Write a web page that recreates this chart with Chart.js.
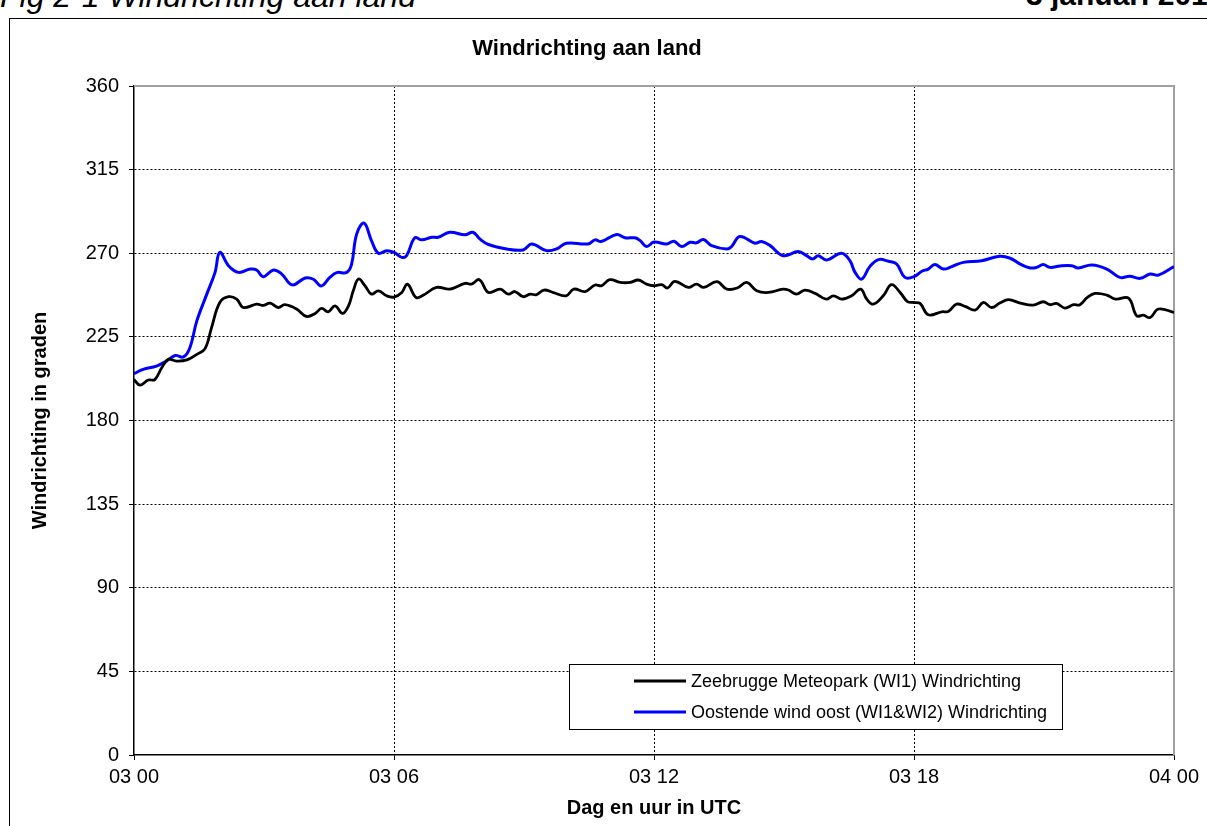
<!DOCTYPE html>
<html>
<head>
<meta charset="utf-8">
<script src="https://cdn.jsdelivr.net/npm/chart.js@4/dist/chart.umd.min.js"></script>
<style>
  html, body { margin: 0; padding: 0; background: #fff; overflow: hidden; }
  #wrap { position: relative; width: 1207px; height: 826px; overflow: hidden; }
  #chart { position: absolute; left: 0; top: 0; }
  .hdr { position: absolute; font-family: "Liberation Sans", Arial, sans-serif; font-size: 32px; line-height: 1; white-space: nowrap; color: #000; }
  #hdrLeft { left: 0; top: -20px; font-style: italic; }
  #hdrRight { left: 1026px; top: -20px; font-size: 30px; font-weight: bold; }
</style>
</head>
<body>
<div id="wrap">
  <div class="hdr" id="hdrLeft">Fig 2-1 Windrichting aan land</div>
  <div class="hdr" id="hdrRight">3 januari 2010</div>
  <canvas id="chart" width="1207" height="826"></canvas>
</div>
<script>
// hours after 03 00 UTC
var tickLabels = ['03 00', '03 06', '03 12', '03 18', '04 00'];
var seriesNames = ['Zeebrugge Meteopark (WI1) Windrichting', 'Oostende wind oost (WI1&WI2) Windrichting'];

var zeeHours = [0, 0.14, 0.33, 0.48, 0.64, 0.79, 0.98, 1.22, 1.45, 1.64, 1.79, 1.98, 2.18, 2.37, 2.52, 2.83, 2.98, 3.14, 3.33, 3.48,
    3.75, 3.98, 4.18, 4.33, 4.48, 4.64, 4.81, 4.95, 5.06, 5.18, 5.33, 5.48, 5.64, 5.83, 6.0,
    6.18, 6.31, 6.51, 6.68, 6.98, 7.29, 7.64, 7.79, 7.97, 8.18, 8.45, 8.64, 8.79, 8.98, 9.14, 9.29, 9.46, 9.68, 9.97, 10.15,
    10.41, 10.64, 10.79, 10.98, 11.22, 11.45, 11.64, 11.83, 12.0,
    12.18, 12.31, 12.48, 12.79, 12.98, 13.15, 13.45, 13.68, 13.92, 14.14, 14.37, 14.64, 14.98, 15.1, 15.29, 15.48, 15.72, 15.97,
    16.14, 16.33, 16.56, 16.77, 16.91, 17.06, 17.29, 17.48, 17.68, 17.85, 18.0,
    18.14, 18.33, 18.64, 18.79, 18.98, 19.18, 19.41, 19.6, 19.79, 19.98, 20.18, 20.45, 20.75, 20.98, 21.14, 21.29, 21.48, 21.68,
    21.83, 22.0, 22.18, 22.45, 22.65, 22.95, 23.14, 23.29, 23.45, 23.64, 24.0];
var zeeDir = [202.1, 199, 201.8, 202, 208.4, 212.9, 212, 212.6, 215.6, 218.7, 230, 243.5, 246.6, 245.3, 240.8, 242.6, 241.9, 243.2, 240.8, 242.3,
    240, 236, 237.6, 240.3, 238.5, 241.7, 237.6, 241.7, 249.8, 256.1, 252.5, 248, 249.8, 247.1, 246.4,
    248.9, 253.4, 246.2, 247.5, 251.6, 250.7, 253.8, 253.4, 255.8, 248.9, 250.7, 248, 249.4, 246.6, 248, 247.7, 250.2, 248.8, 247.1, 250.7,
    249.4, 252.9, 252.5, 255.8, 254.3, 254.3, 255.6, 253.4, 252.5,
    253.1, 251.3, 254.9, 251.6, 253.4, 251.6, 254.7, 250.7, 251.3, 254.3, 249.8, 248.9, 250.7, 250.2, 248, 250.2, 248.4, 245.3,
    247.1, 245.3, 247.1, 250.7, 245.3, 242.6, 247.1, 253.1, 248.9, 244, 243.5,
    243, 236.9, 238.5, 238.7, 242.6, 241.4, 239.4, 243.5, 240.8, 243.2, 245, 243.2, 242.1, 243.9, 242.3, 243, 240.5, 242.3,
    242.3, 246.2, 248.4, 247.5, 245.3, 245.8, 236.3, 236.7, 235.4, 240, 238.2];

var oostHours = [0, 0.21, 0.52, 0.75, 0.95, 1.14, 1.29, 1.45, 1.68, 1.87, 1.98, 2.18, 2.41, 2.68, 2.83, 2.98, 3.22, 3.41, 3.65, 3.95,
    4.14, 4.32, 4.52, 4.68, 4.91, 5.02, 5.14, 5.31, 5.48, 5.64, 5.83, 6.0,
    6.18, 6.29, 6.48, 6.64, 6.87, 7.02, 7.29, 7.64, 7.82, 7.98, 8.18, 8.6, 8.98, 9.18, 9.52, 9.75, 9.98, 10.48, 10.64, 10.78,
    11.14, 11.33, 11.56, 11.68, 11.83, 12.0,
    12.29, 12.46, 12.64, 12.83, 12.98, 13.14, 13.33, 13.68, 13.79, 13.98, 14.33, 14.48, 14.68, 14.98, 15.33, 15.52, 15.66, 15.79,
    15.98, 16.33, 16.52, 16.64, 16.79, 16.98, 17.18, 17.41, 17.6, 17.79, 18.0,
    18.18, 18.33, 18.48, 18.68, 18.87, 19.14, 19.56, 19.98, 20.22, 20.45, 20.68, 20.83, 20.98, 21.14, 21.37, 21.64, 21.79, 22.1,
    22.45, 22.75, 22.98, 23.22, 23.45, 23.64, 24.0];
var oostDir = [205.2, 207.5, 209.3, 212, 215, 214.2, 219.2, 233.6, 248, 259.7, 270.5, 263.3, 259.7, 261.5, 261, 257.4, 261, 258.8, 253, 256.7,
    256, 252.4, 257, 259.6, 259.7, 264, 280.4, 286.2, 276.8, 270, 271.4, 270.5,
    267.8, 268.7, 278.3, 277.2, 278.6, 278.6, 281.3, 279.9, 281.3, 277.7, 274.7, 272.3, 271.8, 275, 271.4, 272.3, 275.4, 275, 277.2, 276.3,
    280.1, 278.3, 278.3, 276.8, 273.6, 276,
    275, 276.5, 273.6, 275.9, 275.6, 277.4, 274.1, 272.3, 273.6, 279, 275.4, 276.3, 274.1, 268.7, 270.9, 268.7, 266.9, 268.7,
    266.4, 270, 266, 259.7, 256.1, 262.8, 266.6, 265.7, 264.2, 257, 257.4,
    260.3, 261.5, 263.9, 261.5, 262.8, 265.1, 266, 268.4, 267.3, 264.2, 262.1, 262.4, 263.9, 262.4, 263.2, 263.3, 262.1, 263.7,
    261.5, 257, 257.6, 256.5, 258.8, 258.2, 262.8];

var FONT = '"Liberation Sans", Arial, sans-serif';

function toPoints(xs, ys) {
    return xs.map(function(x, i) { return { x: x, y: ys[i] }; });
}

// outer frame, grey plot border, boxed legend
var framePlugin = {
    id: 'frame',
    beforeDraw: function(chart) {
        var ctx = chart.ctx;
        ctx.save();
        ctx.strokeStyle = '#000';
        ctx.lineWidth = 1;
        ctx.strokeRect(9.5, 18.5, 1300, 900);
        ctx.restore();
    },
    beforeDatasetsDraw: function(chart) {
        var a = chart.chartArea, ctx = chart.ctx;
        ctx.save();
        ctx.strokeStyle = '#a0a0a0';
        ctx.lineWidth = 2;
        ctx.beginPath();
        ctx.moveTo(a.left, a.top);
        ctx.lineTo(a.right, a.top);
        ctx.lineTo(a.right, a.bottom);
        ctx.stroke();
        ctx.restore();
    },
    afterDraw: function(chart) {
        var ctx = chart.ctx;
        var ds = chart.data.datasets;
        ctx.save();
        ctx.fillStyle = '#fff';
        ctx.fillRect(569, 664, 493, 65);
        ctx.strokeStyle = '#000';
        ctx.lineWidth = 1;
        ctx.strokeRect(569.5, 664.5, 493, 65);
        ctx.font = '18px ' + FONT;
        ctx.textBaseline = 'middle';
        ds.forEach(function(d, i) {
            var y = 681 + i * 31;
            ctx.strokeStyle = d.borderColor;
            ctx.lineWidth = 3;
            ctx.beginPath();
            ctx.moveTo(634, y);
            ctx.lineTo(686, y);
            ctx.stroke();
            ctx.fillStyle = '#000';
            ctx.fillText(d.label, 691, y + 1);
        });
        ctx.restore();
    }
};

window.onload = function() {
    var ctx = document.getElementById('chart').getContext('2d');
    new Chart(ctx, {
        type: 'line',
        data: {
            datasets: [{
                label: seriesNames[0],
                data: toPoints(zeeHours, zeeDir),
                borderColor: '#000000',
                borderWidth: 2.8,
                pointRadius: 0,
                tension: 0.4
            }, {
                label: seriesNames[1],
                data: toPoints(oostHours, oostDir),
                borderColor: '#0000ff',
                borderWidth: 3,
                pointRadius: 0,
                tension: 0.4
            }]
        },
        options: {
            responsive: false,
            animation: false,
            layout: { padding: { left: 0, right: 33, top: 28, bottom: 0 } },
            plugins: {
                legend: { display: false },
                tooltip: { enabled: false },
                title: {
                    display: true,
                    text: 'Windrichting aan land',
                    color: '#000',
                    font: { family: FONT, size: 22, weight: 'bold' },
                    padding: { top: 8, bottom: 23.6 }
                }
            },
            scales: {
                x: {
                    type: 'linear',
                    min: 0,
                    max: 24,
                    afterFit: function(s) { s.height = 71; },
                    ticks: {
                        stepSize: 6,
                        color: '#000',
                        padding: 5,
                        maxRotation: 0,
                        font: { family: FONT, size: 20 },
                        callback: function(v) { return tickLabels[v / 6]; }
                    },
                    grid: {
                        color: function(c) { return (c.tick.value === 0 || c.tick.value === 24) ? 'rgba(0,0,0,0)' : '#000'; },
                        lineWidth: 1,
                        tickLength: 5,
                        tickColor: '#000',
                        tickBorderDash: []
                    },
                    border: { display: true, color: '#000', width: 1.5, dash: [2, 2] },
                    title: {
                        display: true,
                        text: 'Dag en uur in UTC',
                        color: '#000',
                        font: { family: FONT, size: 20, weight: 'bold' },
                        padding: { top: 0, bottom: 6 }
                    }
                },
                y: {
                    min: 0,
                    max: 360,
                    afterFit: function(s) { s.width = 134; },
                    ticks: {
                        stepSize: 45,
                        color: '#000',
                        padding: 10,
                        font: { family: FONT, size: 20 }
                    },
                    grid: {
                        color: function(c) { return (c.tick.value === 0 || c.tick.value === 360) ? 'rgba(0,0,0,0)' : '#000'; },
                        lineWidth: 1,
                        tickLength: 5,
                        tickColor: '#000',
                        tickBorderDash: []
                    },
                    border: { display: true, color: '#000', width: 1.5, dash: [2, 2] },
                    title: {
                        display: true,
                        text: 'Windrichting in graden',
                        color: '#000',
                        font: { family: FONT, size: 20, weight: 'bold' },
                        padding: { top: 28, bottom: 0 }
                    }
                }
            }
        },
        plugins: [framePlugin]
    });
};
</script>
</body>
</html>
